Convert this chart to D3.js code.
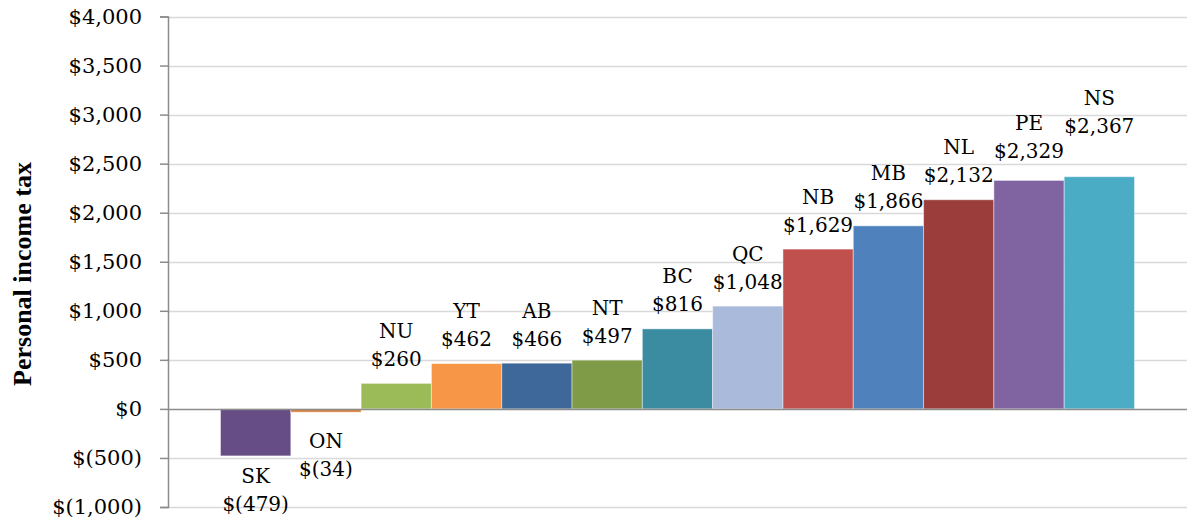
<!DOCTYPE html>
<html>
<head>
<meta charset="utf-8">
<script src="https://cdn.jsdelivr.net/npm/d3@7"></script>
<style>
  body { margin: 0; background: #fff; }
  svg { display: block; }
</style>
</head>
<body>
<div id="chart"></div>
<script>
// provinces / territories, sorted by value
const provinces = ['SK', 'ON', 'NU', 'YT', 'AB', 'NT', 'BC', 'QC', 'NB', 'MB', 'NL', 'PE', 'NS'];
const taxValues = [-479, -34, 260, 462, 466, 497, 816, 1048, 1629, 1866, 2132, 2329, 2367];
const barColors = ['#664d85', '#d8823e', '#9bbb59', '#f79646', '#3e6899', '#7f9b48', '#3b8ca1',
                   '#a9badb', '#c0504d', '#4f81bd', '#9a3d3b', '#8064a2', '#4bacc6'];
const tickValues = [-1000, -500, 0, 500, 1000, 1500, 2000, 2500, 3000, 3500, 4000];

const width = 1187, height = 525;

const svg = d3.select('#chart')
  .append('svg')
  .attr('width', width)
  .attr('height', height);

const y = d3.scaleLinear()
  .domain([-1000, 4000])
  .range([507, 16.5]);

const x = d3.scaleBand()
  .domain(provinces)
  .range([220.5, 1134.5])
  .padding(0);

const axisX = 168;

// money format, negatives in brackets like excel
const money = v => v < 0 ? '$(' + d3.format(',')(-v) + ')' : '$' + d3.format(',')(v);

// gridlines
svg.append('g')
  .selectAll('line')
  .data(tickValues.filter(d => d !== 0))
  .join('line')
  .attr('x1', axisX)
  .attr('x2', width)
  .attr('y1', d => Math.round(y(d)) + 0.5)
  .attr('y2', d => Math.round(y(d)) + 0.5)
  .attr('stroke', '#d9d9d9')
  .attr('stroke-width', 1.5);

// bars
svg.append('g')
  .selectAll('rect')
  .data(provinces)
  .join('rect')
  .attr('x', d => x(d))
  .attr('width', x.bandwidth())
  .attr('y', (d, i) => y(Math.max(0, taxValues[i])))
  .attr('height', (d, i) => Math.abs(y(taxValues[i]) - y(0)))
  .attr('fill', (d, i) => barColors[i])
  .attr('stroke', 'rgba(255,255,255,0.45)')
  .attr('stroke-width', 1);

// zero line
svg.append('line')
  .attr('x1', axisX)
  .attr('x2', width)
  .attr('y1', Math.round(y(0)) + 0.5)
  .attr('y2', Math.round(y(0)) + 0.5)
  .attr('stroke', '#8c8c8c')
  .attr('stroke-width', 1.5);

// y axis
const yAxis = svg.append('g')
  .attr('transform', 'translate(' + axisX + ',0)')
  .call(d3.axisLeft(y).tickValues(tickValues).tickFormat(money).tickSize(8).tickPadding(18));

yAxis.select('.domain').attr('stroke', '#8c8c8c').attr('stroke-width', 1.5);
yAxis.selectAll('.tick line').attr('stroke', '#8c8c8c').attr('stroke-width', 1.5);
yAxis.selectAll('.tick text')
  .attr('fill', '#000')
  .style('font-family', '"DejaVu Serif", serif')
  .style('font-size', '21px');

// axis title
svg.append('text')
  .attr('text-anchor', 'middle')
  .attr('transform', 'translate(31,274) rotate(-90)')
  .style('font-family', '"Liberation Serif", serif')
  .style('font-weight', 'bold')
  .style('font-size', '26px')
  .text('Personal income tax');

// data labels - a few were shifted by hand in the original to avoid overlaps
const labelNudge = { PE: -5, NS: -26.5, ON: 8.7 };
const lineGap = 28;

const labels = svg.append('g')
  .style('font-family', '"DejaVu Serif", serif')
  .style('font-size', '20px')
  .attr('text-anchor', 'middle');

provinces.forEach((p, i) => {
  const v = taxValues[i];
  const cx = x(p) + x.bandwidth() / 2;
  const nudge = labelNudge[p] || 0;
  let nameY, valueY;
  if (v >= 0) {
    valueY = y(v) - 17.5 + nudge;
    nameY = valueY - lineGap;
  } else {
    nameY = y(v) + 26.7 + nudge;
    valueY = nameY + lineGap;
  }
  labels.append('text').attr('x', cx).attr('y', nameY).text(p);
  labels.append('text').attr('x', cx).attr('y', valueY).text(money(v));
});
</script>
</body>
</html>
